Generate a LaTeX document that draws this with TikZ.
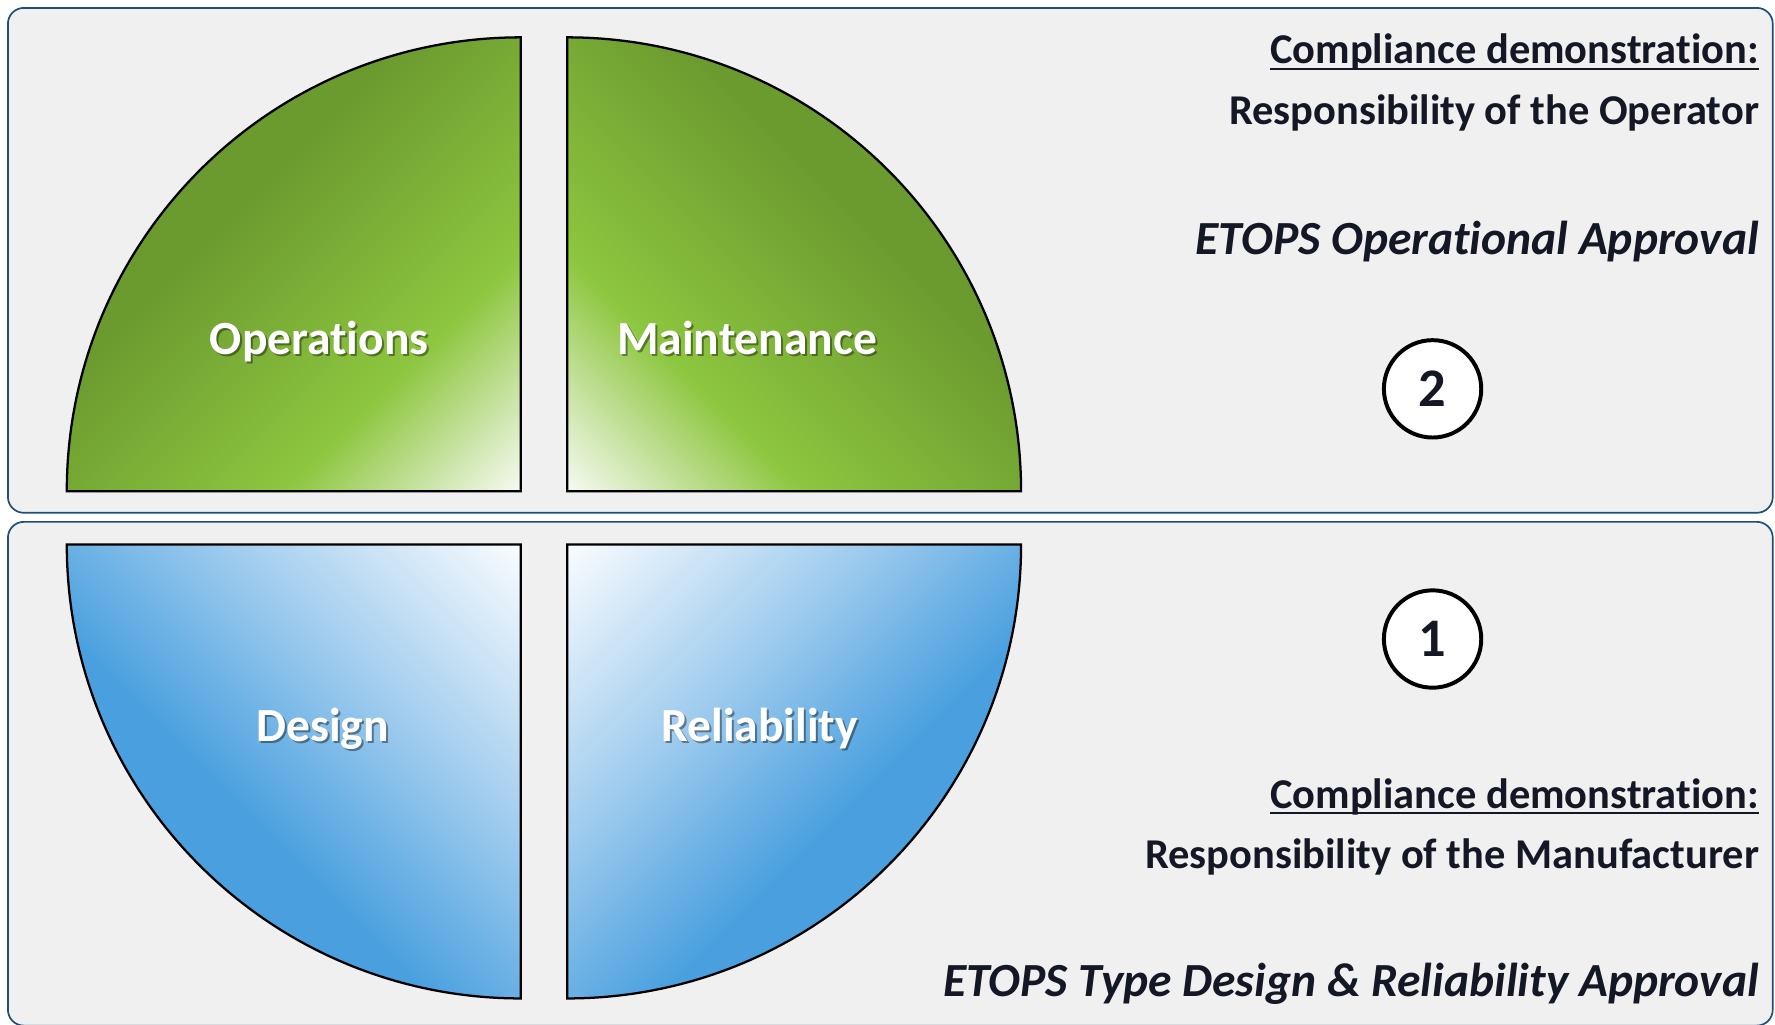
\documentclass[tikz,border=0pt]{standalone}
\usepackage{fontspec}
\setmainfont{Carlito}[Ligatures={NoCommon,NoContextual}]
\usetikzlibrary{calc}

\definecolor{panelfill}{HTML}{F0F0F0}
\definecolor{panelline}{HTML}{1F4E79}
\definecolor{inkdark}{HTML}{141824}
\definecolor{leafdark}{HTML}{6B9A2F}
\definecolor{leafmid}{HTML}{8DC63F}
\definecolor{leaflight}{HTML}{F4F9EE}
\definecolor{skydark}{HTML}{4AA0DF}
\definecolor{skymid}{HTML}{A6CFEF}
\definecolor{skylight}{HTML}{F7FBFE}

% stops run corner to corner along the diagonal
\pgfdeclarehorizontalshading{greenfade}{100bp}{%
  color(0bp)=(leafdark); color(41bp)=(leafdark); color(67bp)=(leafmid);
  color(85bp)=(leaflight); color(100bp)=(leaflight)}
\pgfdeclarehorizontalshading{bluefade}{100bp}{%
  color(0bp)=(skydark); color(43bp)=(skydark); color(64bp)=(skymid);
  color(85bp)=(skylight); color(100bp)=(skylight)}

% white label with a soft drop shadow
\newcommand\shadowed[1]{\makebox[0pt][l]{\pgfsetfillopacity{0.4}\color{black}\hspace{1.8pt}\raisebox{-1.8pt}{#1}\pgfsetfillopacity{1}}#1}

\begin{document}
\begin{tikzpicture}[x=1pt, y=1pt,
    panel/.style={draw=panelline, line width=1.5pt, fill=panelfill, rounded corners=14pt},
    quarter/.style={draw=black, line width=2pt},
    leaf/.style={font=\fontsize{42}{50}\selectfont\bfseries, text=white, inner sep=0pt, anchor=base},
    note/.style={font=\fontsize{37.5}{45}\selectfont\bfseries, text=inkdark, inner sep=0pt, anchor=base east},
    approval/.style={font=\fontsize{42}{50}\selectfont\bfseries\itshape, text=inkdark, inner sep=0pt, anchor=base east},
    badge/.style={circle, draw=black, line width=3.5pt, fill=white, minimum size=86pt, inner sep=0pt,
        font=\fontsize{48}{56}\selectfont\bfseries, text=inkdark}]

    \useasboundingbox (0,0) rectangle (1568,905);

    % Two background panels
    \draw[panel] (7,452) rectangle (1566,898);
    \draw[panel] (7,-1) rectangle (1566,444);

    % Four quarter discs, corners meeting at the middle gap
    \foreach \cx/\cy/\sa/\ea/\shd/\ang in {%
        460/471/180/90/greenfade/-45, 501/471/0/90/greenfade/-135,
        460/424/180/270/bluefade/45, 501/424/0/-90/bluefade/135} {
        \shadedraw[quarter, shading=\shd, shading angle=\ang]
            (\cx,\cy) -- ++(\sa:401) arc (\sa:\ea:401) -- cycle;
    }

    % Labels on the quarters
    \node[leaf] (ops) at (282,592) {\shadowed{Operations}};
    \node[leaf] (mnt) at (660,592) {\shadowed{Maintenance}};
    \node[leaf] (dsg) at (285,250) {\shadowed{Design}};
    \node[leaf] (rel) at (671,250) {\shadowed{Reliability}};

    % Operator side
    \node[note] (compTop) at (1554,849) {Compliance demonstration:};
    \draw[line width=2pt, inkdark] ([yshift=-5pt]compTop.base west) -- ([yshift=-5pt]compTop.base east);
    \node[note] (respTop) at (1554,795) {Responsibility of the Operator};
    \node[approval] (opsAppr) at (1554,680) {ETOPS Operational Approval};
    \node[badge] (two) at (1265.5,561.5) {2};

    % Manufacturer side
    \node[badge] (one) at (1265.5,340.5) {1};
    \node[note] (compBot) at (1554,191) {Compliance demonstration:};
    \draw[line width=2pt, inkdark] ([yshift=-4pt]compBot.base west) -- ([yshift=-4pt]compBot.base east);
    \node[note] (respBot) at (1554,138) {Responsibility of the Manufacturer};
    \node[approval] (typeAppr) at (1554,25) {ETOPS Type Design \& Reliability Approval};

\end{tikzpicture}
\end{document}
